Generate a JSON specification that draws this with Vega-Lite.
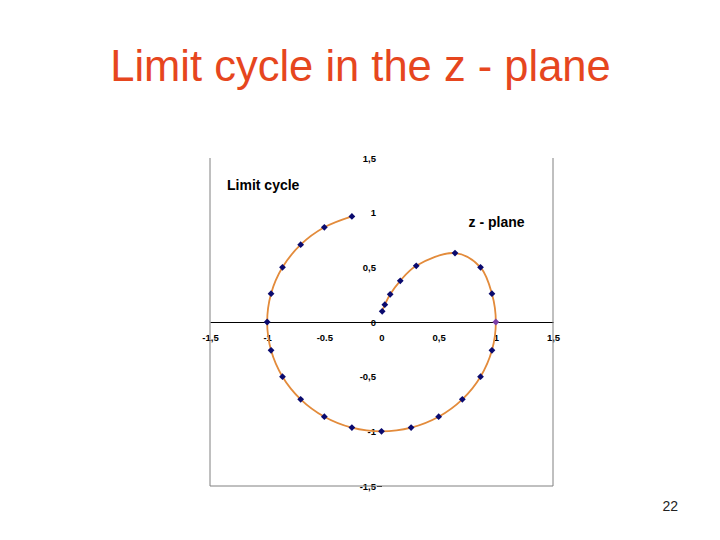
{
  "$schema": "https://vega.github.io/schema/vega-lite/v6.json",
  "width": 343,
  "height": 328,
  "autosize": {"type": "none"},
  "padding": {"left": 210, "top": 158, "right": 167, "bottom": 54},
  "background": "white",
  "config": {
    "view": {"stroke": null},
    "font": "Liberation Sans"
  },
  "title": {
    "text": "Limit cycle in the z - plane",
    "font": "Liberation Sans",
    "fontSize": 43.5,
    "fontWeight": "normal",
    "color": "#E6461E",
    "anchor": "middle",
    "baseline": "alphabetic",
    "dx": -21,
    "offset": 29
  },
  "data": {
    "values": [
      {"i": 1, "x": 0.006, "y": 0.098},
      {"i": 2, "x": 0.029, "y": 0.158},
      {"i": 3, "x": 0.076, "y": 0.253},
      {"i": 4, "x": 0.164, "y": 0.377},
      {"i": 5, "x": 0.304, "y": 0.514},
      {"i": 6, "x": 0.643, "y": 0.630},
      {"i": 7, "x": 0.866, "y": 0.500},
      {"i": 8, "x": 0.966, "y": 0.259},
      {"i": 9, "x": 1.000, "y": 0.000},
      {"i": 10, "x": 0.966, "y": -0.259},
      {"i": 11, "x": 0.866, "y": -0.500},
      {"i": 12, "x": 0.707, "y": -0.707},
      {"i": 13, "x": 0.500, "y": -0.866},
      {"i": 14, "x": 0.259, "y": -0.966},
      {"i": 15, "x": 0.000, "y": -1.000},
      {"i": 16, "x": -0.259, "y": -0.966},
      {"i": 17, "x": -0.500, "y": -0.866},
      {"i": 18, "x": -0.707, "y": -0.707},
      {"i": 19, "x": -0.866, "y": -0.500},
      {"i": 20, "x": -0.966, "y": -0.259},
      {"i": 21, "x": -1.000, "y": 0.000},
      {"i": 22, "x": -0.966, "y": 0.259},
      {"i": 23, "x": -0.866, "y": 0.500},
      {"i": 24, "x": -0.707, "y": 0.707},
      {"i": 25, "x": -0.500, "y": 0.866},
      {"i": 26, "x": -0.259, "y": 0.966}
    ]
  },
  "layer": [
    {
      "data": {"values": [{}]},
      "mark": {"type": "rule", "color": "#808080", "strokeWidth": 1},
      "encoding": {"x": {"datum": -1.5, "type": "quantitative", "scale": {"domain": [-1.5, 1.5]}}}
    },
    {
      "data": {"values": [{}]},
      "mark": {"type": "rule", "color": "#808080", "strokeWidth": 1},
      "encoding": {"x": {"datum": 1.5, "type": "quantitative"}}
    },
    {
      "data": {"values": [{}]},
      "mark": {"type": "rule", "color": "#808080", "strokeWidth": 1},
      "encoding": {"y": {"datum": -1.5, "type": "quantitative", "scale": {"domain": [-1.5, 1.5]}}}
    },
    {
      "mark": {"type": "line", "interpolate": "catmull-rom", "color": "#E38B3B", "strokeWidth": 1.8},
      "encoding": {
        "x": {
          "field": "x",
          "type": "quantitative",
          "scale": {"domain": [-1.5, 1.5], "nice": false, "zero": false},
          "axis": {
            "title": null,
            "orient": "bottom",
            "offset": -164,
            "values": [-1.5, -1, -0.5, 0, 0.5, 1, 1.5],
            "labelExpr": "datum.value == -0.5 ? '-0.5' : replace(replace(format(datum.value, '~g'), '.', ','), '\u2212', '-')",
            "grid": false,
            "ticks": false,
            "domainColor": "black",
            "domainWidth": 1,
            "labelFont": "Liberation Sans",
            "labelFontSize": 9.5,
            "labelFontWeight": "bold",
            "labelColor": "black",
            "labelPadding": 10,
            "labelFlush": false
          }
        },
        "y": {
          "field": "y",
          "type": "quantitative",
          "scale": {"domain": [-1.5, 1.5], "nice": false, "zero": false},
          "axis": {
            "title": null,
            "orient": "left",
            "offset": -171.5,
            "values": [-1.5, -1, -0.5, 0, 0.5, 1, 1.5],
            "labelExpr": "replace(replace(format(datum.value, '~g'), '.', ','), '\u2212', '-')",
            "grid": false,
            "domain": false,
            "tickSize": 5,
            "tickColor": {"condition": {"test": "datum.value === -1.5", "value": "black"}, "value": "transparent"},
            "labelFont": "Liberation Sans",
            "labelFontSize": 9.5,
            "labelFontWeight": "bold",
            "labelColor": "black",
            "labelPadding": 1,
            "labelFlush": false
          }
        },
        "order": {"field": "i", "type": "quantitative"}
      }
    },
    {
      "mark": {"type": "point", "shape": "diamond", "filled": true, "size": 46, "opacity": 1},
      "encoding": {
        "x": {"field": "x", "type": "quantitative"},
        "y": {"field": "y", "type": "quantitative"},
        "color": {
          "condition": {"test": "datum.i == 9", "value": "#7B3FA8"},
          "value": "#0A0A6E"
        }
      }
    },
    {
      "data": {"values": [{}]},
      "mark": {"type": "text", "text": "Limit cycle", "align": "left", "baseline": "middle", "font": "Liberation Sans", "fontSize": 14, "fontWeight": "bold", "color": "black"},
      "encoding": {"x": {"datum": -1.351, "type": "quantitative"}, "y": {"datum": 1.242, "type": "quantitative"}}
    },
    {
      "data": {"values": [{}]},
      "mark": {"type": "text", "text": "z - plane", "align": "left", "baseline": "middle", "font": "Liberation Sans", "fontSize": 14, "fontWeight": "bold", "color": "black"},
      "encoding": {"x": {"datum": 0.761, "type": "quantitative"}, "y": {"datum": 0.909, "type": "quantitative"}}
    },
    {
      "data": {"values": [{}]},
      "mark": {"type": "text", "text": "22", "align": "center", "baseline": "middle", "font": "Liberation Sans", "fontSize": 14, "fontWeight": "normal", "color": "#222222"},
      "encoding": {"x": {"datum": 2.526, "type": "quantitative"}, "y": {"datum": -1.69, "type": "quantitative"}}
    }
  ]
}
